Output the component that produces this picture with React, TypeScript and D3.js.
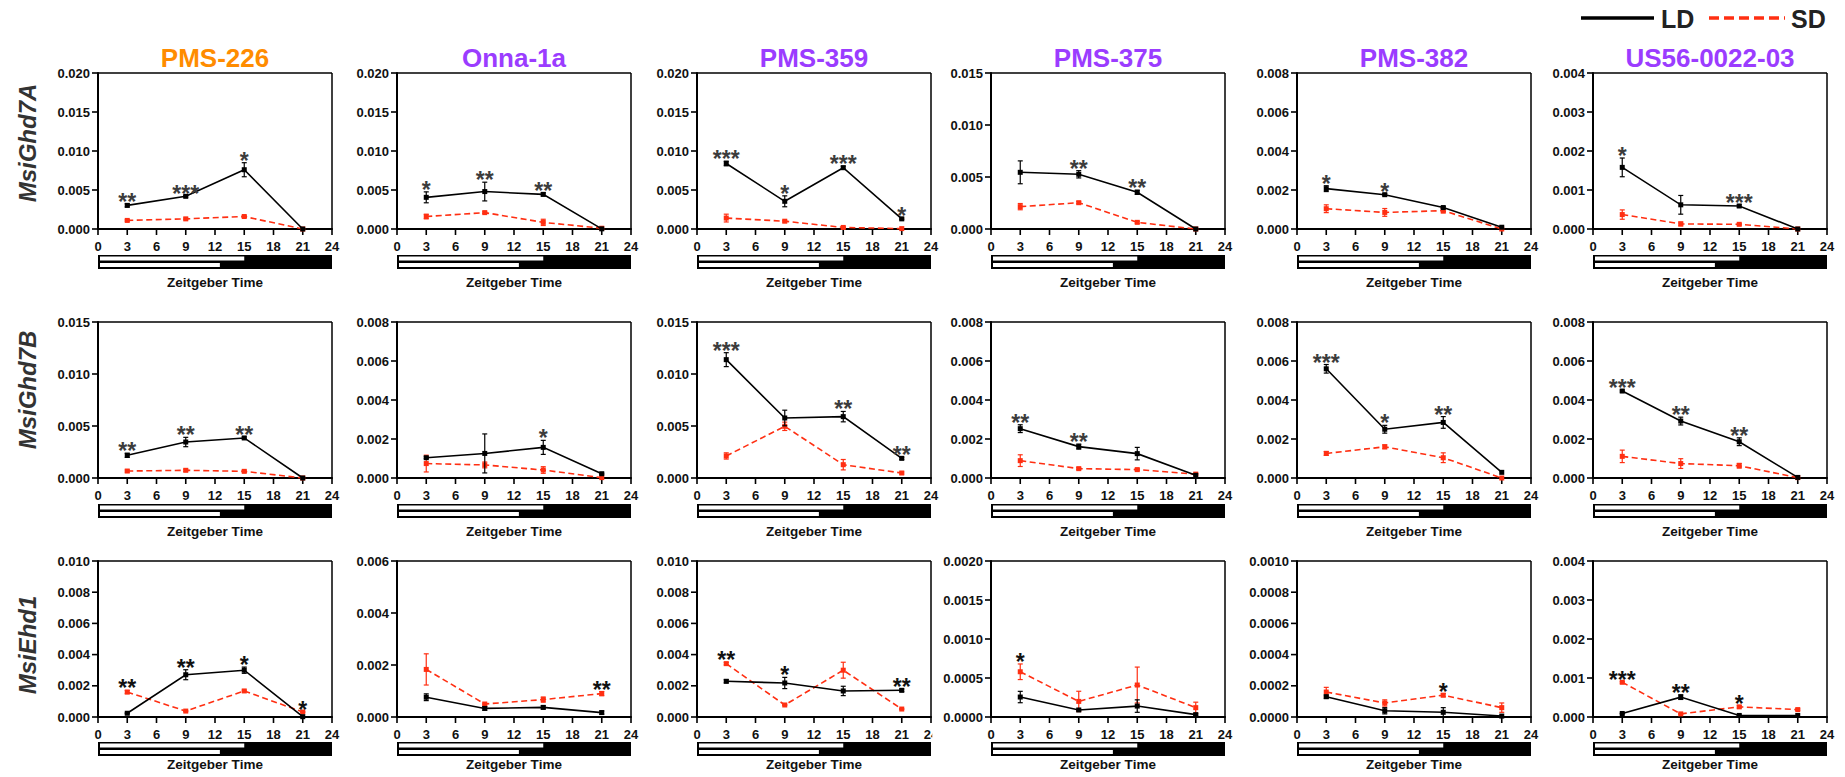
import React from 'react';
import * as d3 from 'd3';

// sampling times (Zeitgeber Time, h)
const zt = [3, 9, 15, 21];
const xTicks = [0, 3, 6, 9, 12, 15, 18, 21, 24];
const genes = ['MsiGhd7A', 'MsiGhd7B', 'MsiEhd1'];
const accessions = ['PMS-226', 'Onna-1a', 'PMS-359', 'PMS-375', 'PMS-382', 'US56-0022-03'];
const accessionColors = ['#ff8c00', '#9b3cff', '#9b3cff', '#9b3cff', '#9b3cff', '#9b3cff'];

// ---- MsiGhd7A ----
const ghd7aLD = [
  [0.00303, 0.00419, 0.0076, 0],
  [0.00406, 0.0048, 0.00444, 0.00002],
  [0.0084, 0.00355, 0.00786, 0.0013],
  [0.00545, 0.00526, 0.00353, 0],
  [0.00207, 0.00176, 0.0011, 0.00009],
  [0.00158, 0.00062, 0.00059, 0],
];
const ghd7aLDErr = [
  [0.0002, 0.0001, 0.0009, 0],
  [0.0007, 0.0012, 0.0002, 0],
  [0.0003, 0.0007, 0.0002, 0.0001],
  [0.0011, 0.00035, 0.0002, 0],
  [0.00015, 0.00005, 0.00005, 0],
  [0.00024, 0.00024, 0.00003, 0],
];
const ghd7aSD = [
  [0.0011, 0.0013, 0.0016, 0],
  [0.0016, 0.0021, 0.00085, 0.0001],
  [0.0014, 0.001, 0.0002, 0.00005],
  [0.00215, 0.00253, 0.00064, 0],
  [0.00104, 0.00085, 0.00094, 0],
  [0.00037, 0.00013, 0.00012, 0],
];
const ghd7aSDErr = [
  [0.0001, 0.0001, 0.0001, 0],
  [0.0003, 0.0001, 0.0004, 0],
  [0.0005, 0.0001, 0.0001, 0],
  [0.0003, 0.0001, 0.0001, 0],
  [0.0002, 0.0002, 0.00012, 0],
  [0.00012, 0.00005, 0.00002, 0],
];
const ghd7aStars = [
  ['**', '***', '*', ''],
  ['*', '**', '**', ''],
  ['***', '*', '***', '*'],
  ['', '**', '**', ''],
  ['*', '*', '', ''],
  ['*', '', '***', ''],
];
const ghd7aYMax = [0.02, 0.02, 0.02, 0.015, 0.008, 0.004];
const ghd7aYStep = [0.005, 0.005, 0.005, 0.005, 0.002, 0.001];

// ---- MsiGhd7B ----
const ghd7bLD = [
  [0.00218, 0.00346, 0.00385, 0],
  [0.00104, 0.00126, 0.00157, 0.00022],
  [0.01138, 0.00577, 0.0059, 0.00189],
  [0.00253, 0.00161, 0.00125, 0.00014],
  [0.0056, 0.0025, 0.00285, 0.00029],
  [0.00446, 0.00292, 0.00186, 0.00003],
];
const ghd7bLDErr = [
  [0.0002, 0.00045, 0.0001, 0],
  [0.00005, 0.001, 0.00036, 0.00003],
  [0.00067, 0.00075, 0.0005, 0.0001],
  [0.0002, 0.00013, 0.00032, 0],
  [0.00022, 0.0002, 0.0003, 0],
  [0.00005, 0.0002, 0.0002, 0],
];
const ghd7bSD = [
  [0.00067, 0.00074, 0.00064, 0],
  [0.00074, 0.00067, 0.00041, 0.00002],
  [0.00212, 0.00497, 0.00128, 0.00048],
  [0.00089, 0.00048, 0.00043, 0.0002],
  [0.00126, 0.0016, 0.00104, 0],
  [0.00111, 0.00074, 0.00063, 0.00002],
];
const ghd7bSDErr = [
  [0.0001, 0.0001, 0.0001, 0],
  [0.00043, 0.00015, 0.00017, 0],
  [0.0003, 0.0004, 0.0005, 0.0001],
  [0.0003, 0.00005, 0.00005, 0.00003],
  [0.0001, 0.0001, 0.00025, 0],
  [0.00032, 0.00025, 0.00012, 0],
];
const ghd7bStars = [
  ['**', '**', '**', ''],
  ['', '', '*', ''],
  ['***', '', '**', '**'],
  ['**', '**', '', ''],
  ['***', '*', '**', ''],
  ['***', '**', '**', ''],
];
const ghd7bYMax = [0.015, 0.008, 0.015, 0.008, 0.008, 0.008];
const ghd7bYStep = [0.005, 0.002, 0.005, 0.002, 0.002, 0.002];

// ---- MsiEhd1 ----
const ehd1LD = [
  [0.00024, 0.00271, 0.003, 0.00002],
  [0.00076, 0.00033, 0.00037, 0.00017],
  [0.00229, 0.00218, 0.00167, 0.00171],
  [0.000256, 0.00009, 0.00014, 0.00003],
  [0.00013, 0.00004, 0.00003, 0.000006],
  [0.00009, 0.00051, 0.00004, 0.00004],
];
const ehd1LDErr = [
  [0.00003, 0.00032, 0.0002, 0],
  [0.00013, 0.00007, 0.00006, 0.00006],
  [0.0001, 0.00036, 0.0003, 0.00008],
  [0.000073, 0.00001, 0.00008, 0.00001],
  [0.00001, 0.00002, 0.00003, 0],
  [0.00001, 0.00006, 0.00001, 0],
];
const ehd1SD = [
  [0.0016, 0.00038, 0.00167, 0.00032],
  [0.00183, 0.0005, 0.00067, 0.0009],
  [0.00342, 0.00077, 0.003, 0.00051],
  [0.00058, 0.0002, 0.00041, 0.00012],
  [0.00016, 0.00009, 0.00014, 0.00006],
  [0.00089, 0.00008, 0.00026, 0.00019],
];
const ehd1SDErr = [
  [0.0001, 0.00003, 0.00005, 0.00003],
  [0.0006, 0.00003, 0.0001, 0.00008],
  [0.00008, 0.00003, 0.00051, 0.00003],
  [0.0001, 0.00013, 0.00023, 0.00007],
  [0.00003, 0.00002, 0.00001, 0.00003],
  [0.00002, 0.00001, 0.00003, 0.00002],
];
const ehd1Stars = [
  ['**', '**', '*', '*'],
  ['', '', '', '**'],
  ['**', '*', '', '**'],
  ['*', '', '', ''],
  ['', '', '*', ''],
  ['***', '**', '*', ''],
];
const ehd1YMax = [0.01, 0.006, 0.01, 0.002, 0.001, 0.004];
const ehd1YStep = [0.002, 0.002, 0.002, 0.0005, 0.0002, 0.001];

// photoperiod bars: light hours under LD and SD
const ldLightHours = 15;
const sdLightHours = 12.5;

const rows = [
  { ld: ghd7aLD, ldErr: ghd7aLDErr, sd: ghd7aSD, sdErr: ghd7aSDErr, stars: ghd7aStars, yMax: ghd7aYMax, yStep: ghd7aYStep },
  { ld: ghd7bLD, ldErr: ghd7bLDErr, sd: ghd7bSD, sdErr: ghd7bSDErr, stars: ghd7bStars, yMax: ghd7bYMax, yStep: ghd7bYStep },
  { ld: ehd1LD, ldErr: ehd1LDErr, sd: ehd1SD, sdErr: ehd1SDErr, stars: ehd1Stars, yMax: ehd1YMax, yStep: ehd1YStep },
];

// layout
const W = 1845;
const H = 777;
const colLeft = [98, 397, 697, 991, 1297, 1593];
const plotW = 234;
const rowTop = [73, 322, 561];
const plotH = 156;
const rowLabelY = [143, 390, 645];
const barGap = [26, 26, 25];
const xTitleGap = [58, 58, 52];
const RED = '#ff2f12';
const FONT = 'Liberation Sans, Arial, Helvetica, sans-serif';

const decimalsFor = (step: number) => (step < 0.001 ? 4 : 3);

function Panel({ r, c }: { r: number; c: number }) {
  const row = rows[r];
  const left = colLeft[c];
  const top = rowTop[r];
  const bottom = top + plotH;
  const yMax = row.yMax[c];
  const step = row.yStep[c];
  const dec = decimalsFor(step);
  const x = d3.scaleLinear().domain([0, 24]).range([left, left + plotW]);
  const y = d3.scaleLinear().domain([0, yMax]).range([bottom, top]);
  const yTicks = d3.range(0, Math.round(yMax / step) + 1).map((i) => i * step);
  const fmt = d3.format(`.${dec}f`);
  const line = d3.line<[number, number]>().x((d) => x(d[0])).y((d) => y(d[1]));
  const ldPts: [number, number][] = zt.map((t, i) => [t, row.ld[c][i]]);
  const sdPts: [number, number][] = zt.map((t, i) => [t, row.sd[c][i]]);
  const labelW = (dec + 1) * 13 * 0.556 + 13 * 0.278;
  const bgX = left - 8 - labelW - 11;
  const starColor = r === 2 ? '#111' : '#3c3c3c';
  const barY = bottom + barGap[r];

  const series = (
    pts: [number, number][],
    err: number[],
    color: string,
    dashed: boolean,
  ) => (
    <g>
      <path
        d={line(pts) || ''}
        fill="none"
        stroke={color}
        strokeWidth={1.6}
        strokeDasharray={dashed ? '6,3.5' : undefined}
      />
      {pts.map((p, i) => {
        const e = err[i];
        const cx = x(p[0]);
        return (
          <g key={i}>
            {e > 0 && (
              <g stroke={color} strokeWidth={1.2}>
                <line x1={cx} x2={cx} y1={y(p[1] - e)} y2={y(p[1] + e)} />
                <line x1={cx - 2.5} x2={cx + 2.5} y1={y(p[1] + e)} y2={y(p[1] + e)} />
                <line x1={cx - 2.5} x2={cx + 2.5} y1={y(p[1] - e)} y2={y(p[1] - e)} />
              </g>
            )}
            <rect x={cx - 2.5} y={y(p[1]) - 2.5} width={5} height={5} fill={color} />
          </g>
        );
      })}
    </g>
  );

  return (
    <g fontFamily={FONT} fontWeight="bold">
      {/* white panel backdrop, clips the neighbour's last tick label like the original */}
      <rect x={bgX} y={top - 3} width={left + plotW + 12 - bgX} height={plotH + 25} fill="#fff" />
      {/* frame */}
      <line x1={left} x2={left + plotW} y1={top} y2={top} stroke="#000" strokeWidth={1.5} />
      <line x1={left + plotW} x2={left + plotW} y1={top} y2={bottom} stroke="#000" strokeWidth={1.5} />
      {/* y axis */}
      <line x1={left} x2={left} y1={top - 0.75} y2={bottom + 1} stroke="#000" strokeWidth={2} />
      {yTicks.map((t) => (
        <g key={t}>
          <line x1={left - 6} x2={left} y1={y(t)} y2={y(t)} stroke="#000" strokeWidth={1.6} />
          <text x={left - 8} y={y(t)} dy="0.36em" textAnchor="end" fontSize={13} fill="#111">
            {fmt(t)}
          </text>
        </g>
      ))}
      {/* x axis */}
      <line x1={left - 1} x2={left + plotW + 0.75} y1={bottom} y2={bottom} stroke="#000" strokeWidth={2} />
      {xTicks.map((t) => (
        <g key={t}>
          <line x1={x(t)} x2={x(t)} y1={bottom} y2={bottom + 6} stroke="#000" strokeWidth={1.6} />
          <text x={x(t)} y={bottom + 22} textAnchor="middle" fontSize={13} fill="#111">
            {t}
          </text>
        </g>
      ))}
      {/* photoperiod bars */}
      <rect x={x(0)} y={barY} width={x(24) - x(0)} height={14} fill="#000" />
      <rect x={x(0) + 2} y={barY + 1.5} width={x(ldLightHours) - x(0) - 2} height={4} fill="#fff" />
      <rect x={x(0) + 2} y={barY + 8} width={x(sdLightHours) - x(0) - 2} height={4} fill="#fff" />
      <text x={left + plotW / 2} y={bottom + xTitleGap[r]} textAnchor="middle" fontSize={13.5} fill="#111">
        Zeitgeber Time
      </text>
      {/* data */}
      {series(sdPts, row.sdErr[c], RED, true)}
      {series(ldPts, row.ldErr[c], '#000', false)}
      {row.stars[c].map((s, i) => {
        if (!s) return null;
        const t = Math.min(
          y(row.ld[c][i] + row.ldErr[c][i]),
          y(row.sd[c][i] + row.sdErr[c][i]),
        );
        return (
          <text key={i} x={x(zt[i])} y={t + 6} textAnchor="middle" fontSize={23} fill={starColor}>
            {s}
          </text>
        );
      })}
    </g>
  );
}

export default function App() {
  return (
    <svg
      width={W}
      height={H}
      style={{ position: 'absolute', left: 0, top: 0, background: '#fff' }}
    >
      <rect width={W} height={H} fill="#fff" />
      {/* legend */}
      <g fontFamily={FONT} fontWeight="bold" fontSize={25} fill="#222">
        <line x1={1581} x2={1654} y1={18} y2={18} stroke="#000" strokeWidth={3.5} />
        <text x={1661} y={28}>LD</text>
        <line x1={1709} x2={1785} y1={18} y2={18} stroke={RED} strokeWidth={3.5} strokeDasharray="10,5" />
        <text x={1791} y={28}>SD</text>
      </g>
      {/* row labels */}
      {genes.map((g, r) => (
        <text
          key={g}
          transform={`translate(27,${rowLabelY[r]}) rotate(-90)`}
          textAnchor="middle"
          dominantBaseline="central"
          fontFamily={FONT}
          fontWeight="bold"
          fontStyle="italic"
          fontSize={24}
          fill="#333"
        >
          {g}
        </text>
      ))}
      {rows.map((_, r) => accessions.map((_, c) => <Panel key={`${r}-${c}`} r={r} c={c} />))}
      {/* column titles */}
      {accessions.map((a, c) => (
        <text
          key={a}
          x={colLeft[c] + plotW / 2}
          y={67}
          textAnchor="middle"
          fontFamily={FONT}
          fontWeight="bold"
          fontSize={26}
          fill={accessionColors[c]}
        >
          {a}
        </text>
      ))}
    </svg>
  );
}
